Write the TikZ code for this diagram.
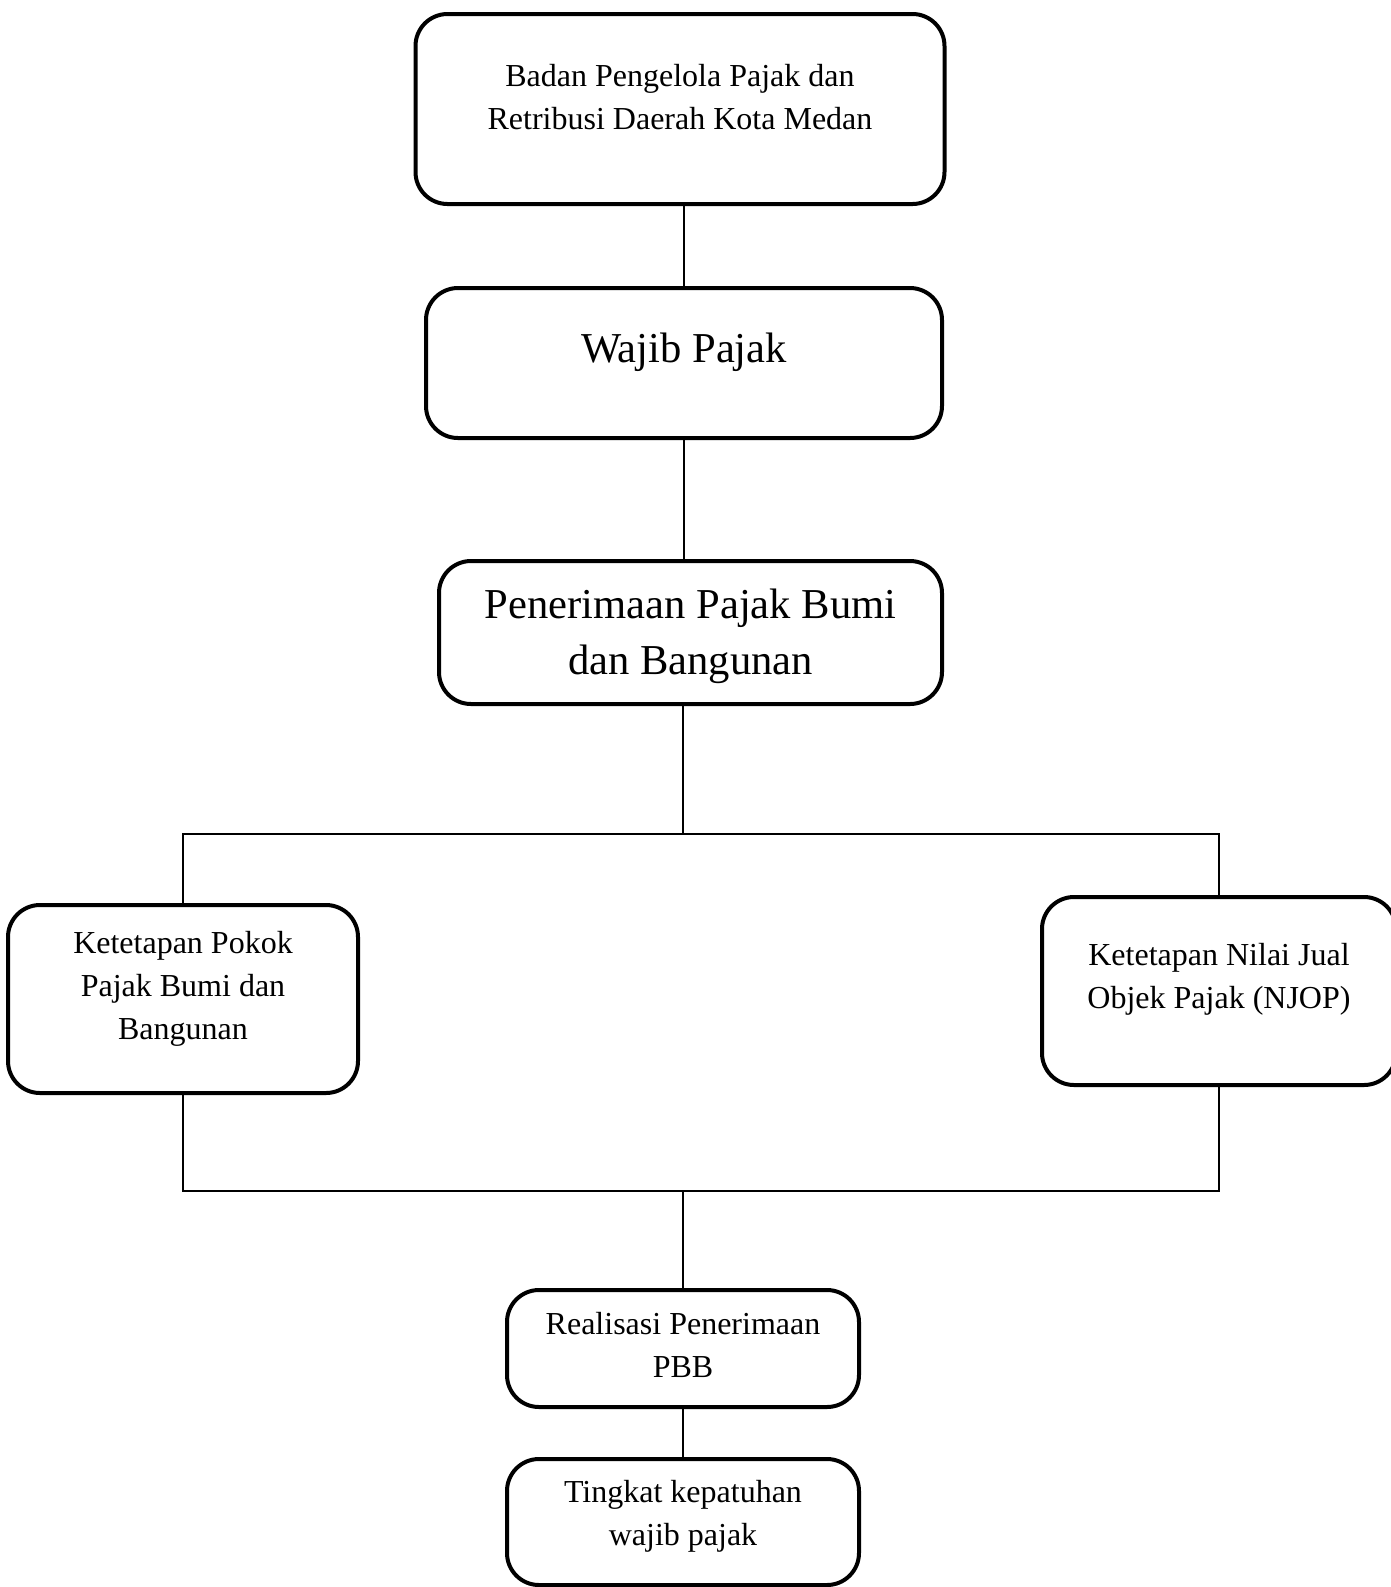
\documentclass[tikz,border=0pt]{standalone}
\usepackage{fontspec}
\setmainfont{Liberation Serif}
\usetikzlibrary{positioning, calc}
\tikzset{
  flowbox/.style={draw, line width=2pt, rounded corners=16pt, inner sep=0pt},
  smalltext/.style={align=center, font=\fontsize{16}{21.5}\selectfont},
  bigtext/.style={align=center, font=\fontsize{21.3}{28}\selectfont},
  conn/.style={line width=0.6pt}
}

\begin{document}
\begin{tikzpicture}[x=0.5pt, y=-0.5pt]
    \useasboundingbox (0,0) rectangle (1391,1587);

    % Boxes
    \node[flowbox, minimum width=264.5pt, minimum height=95pt] (bppd) at (680,109) {};
    \node[flowbox, minimum width=258pt, minimum height=75pt] (wp) at (684,363) {};
    \node[flowbox, minimum width=251.5pt, minimum height=71.5pt] (pbb) at (690.5,632.5) {};
    \node[flowbox, minimum width=175pt, minimum height=94pt] (pokok) at (183,999) {};
    \node[flowbox, minimum width=177pt, minimum height=94pt] (njop) at (1219,991) {};
    \node[flowbox, minimum width=176pt, minimum height=58.5pt] (realisasi) at (683,1348.5) {};
    \node[flowbox, minimum width=176pt, minimum height=63pt] (tingkat) at (683,1522) {};

    % Texts
    \node[smalltext] (bppdtext) at ($(bppd.center)+(0,-12)$) {Badan Pengelola Pajak dan\\Retribusi Daerah Kota Medan};
    \node[bigtext] (wptext) at ($(wp.center)+(0,-11)$) {Wajib Pajak};
    \node[bigtext] (pbbtext) at ($(pbb.center)+(0,4)$) {Penerimaan Pajak Bumi\\dan Bangunan};
    \node[smalltext] (pokoktext) at ($(pokok.center)+(0,-10)$) {Ketetapan Pokok\\Pajak Bumi dan\\Bangunan};
    \node[smalltext] (njoptext) at ($(njop.center)+(0,-12)$) {Ketetapan Nilai Jual\\Objek Pajak (NJOP)};
    \node[smalltext] (realisasitext) at ($(realisasi.center)+(0,-4)$) {Realisasi Penerimaan\\PBB};
    \node[smalltext] (tingkattext) at ($(tingkat.center)+(0,-6)$) {Tingkat kepatuhan\\wajib pajak};

    % Connectors
    \coordinate (split) at (683,834);
    \coordinate (merge) at (683,1191);
    \draw[conn] (wp.north |- bppd.south) -- (wp.north);
    \draw[conn] (wp.south) -- (wp.south |- pbb.north);
    \draw[conn] (split |- pbb.south) -- (split);
    \draw[conn] (pokok.north) |- (split) -| (njop.north);
    \draw[conn] (pokok.south) |- (merge) -| (njop.south);
    \draw[conn] (merge) -- (realisasi.north);
    \draw[conn] (realisasi.south) -- (tingkat.north);
\end{tikzpicture}
\end{document}
